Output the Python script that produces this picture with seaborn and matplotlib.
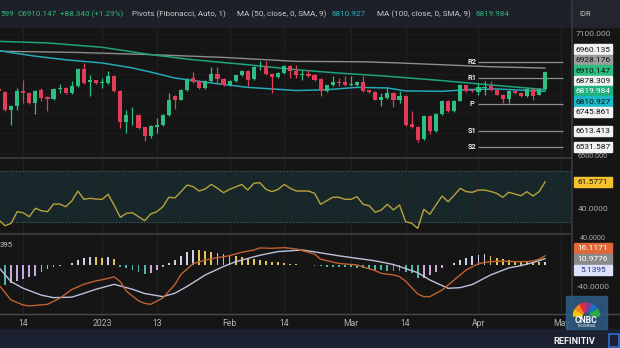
import numpy as np
import matplotlib
matplotlib.use("Agg")
import matplotlib.pyplot as plt
from matplotlib.patches import Rectangle, Wedge
import seaborn as sns

# ---------------- data ----------------
first_index = -1
opens = [6822, 6807, 6715, 6735, 6814, 6802, 6752, 6816, 6782, 6772, 6821, 6827, 6802, 6836, 6925, 6856,
         6866, 6851, 6853, 6890, 6814, 6656, 6690, 6690, 6629, 6584, 6631, 6642, 6690, 6785, 6769, 6819,
         6878, 6861, 6827, 6864, 6898, 6875, 6841, 6864, 6891, 6912, 6873, 6937, 6937, 6898, 6881, 6901,
         6940, 6915, 6895, 6898, 6895, 6875, 6811, 6841, 6858, 6856, 6843, 6844, 6858, 6817, 6807, 6769,
         6777, 6802, 6765, 6789, 6646, 6632, 6570, 6685, 6612, 6696, 6764, 6710, 6764, 6841, 6817, 6807,
         6829, 6836, 6819, 6794, 6772, 6814, 6802, 6785, 6822, 6794, 6822]
highs = [6828, 6814, 6740, 6827, 6869, 6806, 6818, 6827, 6786, 6826, 6848, 6831, 6864, 6930, 6954, 6895,
         6870, 6878, 6912, 6895, 6818, 6718, 6730, 6695, 6633, 6640, 6676, 6695, 6802, 6790, 6824, 6880,
         6908, 6866, 6869, 6932, 6932, 6880, 6869, 6895, 6920, 6916, 6937, 6962, 6962, 6901, 6906, 6945,
         6945, 6945, 6920, 6920, 6899, 6879, 6845, 6886, 6878, 6886, 6886, 6862, 6886, 6820, 6811, 6802,
         6827, 6806, 6811, 6794, 6710, 6636, 6690, 6690, 6700, 6768, 6768, 6768, 6846, 6845, 6821, 6853,
         6861, 6861, 6822, 6797, 6817, 6817, 6806, 6826, 6826, 6828, 6915]
lows = [6805, 6710, 6642, 6718, 6752, 6748, 6696, 6760, 6713, 6768, 6802, 6798, 6798, 6832, 6849, 6789,
        6849, 6827, 6849, 6807, 6626, 6600, 6642, 6620, 6558, 6578, 6600, 6638, 6686, 6723, 6765, 6815,
        6853, 6822, 6822, 6860, 6848, 6836, 6836, 6860, 6888, 6836, 6869, 6920, 6894, 6802, 6877, 6897,
        6878, 6878, 6869, 6882, 6865, 6785, 6807, 6838, 6836, 6838, 6836, 6840, 6807, 6803, 6765, 6735,
        6773, 6732, 6752, 6638, 6626, 6555, 6566, 6595, 6608, 6692, 6706, 6706, 6760, 6807, 6807, 6794,
        6794, 6815, 6790, 6752, 6752, 6798, 6780, 6780, 6769, 6790, 6817]
closes = [6811, 6715, 6735, 6814, 6802, 6752, 6814, 6777, 6772, 6822, 6827, 6802, 6836, 6925, 6853, 6866,
          6853, 6856, 6890, 6811, 6656, 6690, 6693, 6626, 6584, 6634, 6642, 6690, 6769, 6769, 6819, 6875,
          6858, 6827, 6864, 6898, 6875, 6841, 6864, 6891, 6912, 6869, 6932, 6940, 6898, 6881, 6901, 6940,
          6915, 6895, 6898, 6886, 6869, 6811, 6841, 6858, 6851, 6841, 6848, 6858, 6811, 6807, 6769, 6780,
          6802, 6765, 6789, 6642, 6629, 6567, 6685, 6612, 6696, 6764, 6710, 6764, 6841, 6811, 6811, 6831,
          6832, 6819, 6794, 6772, 6814, 6802, 6785, 6822, 6785, 6821.807, 6910.147]

ma100_idx = [-1, 7, 16, 24, 31, 40, 48, 55, 63, 72, 80, 89]
ma100 = [7063, 7055, 7033, 6996, 6970, 6945, 6920, 6903, 6887, 6865, 6843, 6819.984]
ma50_idx = [-1, 5, 10, 16, 21, 24, 28, 34, 40, 48, 53, 58, 63, 66, 72, 76, 81, 89]
ma50 = [7016, 6988, 6970, 6954, 6929, 6908, 6878, 6853, 6831, 6815, 6819, 6831, 6828, 6813, 6811, 6819,
        6823, 6810.927]
gray_idx = [-1, 12, 24, 36, 48, 59, 65, 72, 80, 89]
gray_ma = [7013, 7007, 6996, 6982, 6962, 6960, 6954, 6945, 6935, 6928.176]

pivot_names = ["R2", "R1", "P", "S1", "S2"]
pivot_values = [6960.135, 6878.309, 6745.861, 6613.413, 6531.587]
pivot_start, pivot_end = 78, 92

rsi = [31.6, 27.2, 29.0, 38.1, 37.3, 34.2, 40.8, 38.9, 38.1, 44.1, 44.1, 42.0, 46.5, 54.3, 47.8, 48.6,
       48.0, 47.8, 51.7, 43.0, 33.7, 36.9, 37.3, 34.2, 31.1, 36.3, 38.1, 42.0, 49.4, 48.9, 53.8, 59.0,
       57.7, 54.3, 56.0, 59.5, 56.4, 53.0, 55.6, 57.5, 59.5, 55.1, 60.3, 60.8, 55.6, 53.8, 55.6, 59.5,
       56.4, 54.3, 54.3, 54.3, 52.5, 43.9, 46.7, 49.4, 49.4, 47.8, 47.8, 49.9, 43.9, 42.8, 37.7, 39.5,
       43.9, 39.5, 43.4, 30.3, 29.1, 25.1, 40.0, 36.1, 43.4, 50.4, 45.9, 51.0, 56.4, 53.8, 53.3, 55.1,
       55.1, 54.0, 52.5, 49.4, 53.3, 52.0, 50.6, 53.8, 50.4, 53.8, 61.5771]

macd_idx = [-1, 1, 3, 4, 7, 9, 11, 13, 15, 16, 18, 19, 20, 22, 23, 24, 26, 28, 29, 31, 33, 35, 37, 39,
            41, 42, 44, 46, 48, 51, 52, 55, 58, 61, 62, 64, 65, 66, 68, 69, 70, 72, 74, 76, 78, 80, 82,
            84, 86, 87, 88, 89]
macd = [-35.9, -62.6, -71.5, -73.2, -70.3, -59.6, -44.0, -34.5, -28.6, -26.5, -21.5, -30.0, -47.0,
        -64.0, -68.5, -70.3, -59.0, -35.0, -17.0, 2.0, 8.5, 12.7, 16.2, 22.2, 26.3, 30.0, 29.3, 30.5,
        28.1, 19.0, 10.0, 2.4, -0.3, -10.5, -15.2, -18.1, -21.0, -29.0, -52.0, -56.6, -56.6, -45.0,
        -27.0, -9.0, 2.0, 5.8, 6.6, 5.6, 5.8, 6.8, 10.0, 16.1171]
signal_idx = [-1, 1, 3, 6, 8, 11, 13, 15, 18, 21, 23, 26, 28, 30, 33, 36, 38, 42, 45, 49, 51, 55, 58,
              61, 64, 68, 70, 73, 75, 77, 80, 83, 85, 87, 88, 89]
signal = [-5.0, -30.0, -41.8, -54.0, -58.4, -57.5, -50.7, -43.5, -34.7, -43.5, -51.0, -56.6, -50.5,
          -38.5, -18.0, -3.0, 5.5, 17.0, 23.5, 26.3, 23.0, 16.0, 11.5, 7.0, 0.5, -14.0, -27.0, -41.8,
          -40.6, -35.0, -18.1, -5.5, -1.5, 4.0, 7.5, 10.9776]
hist = [-34.7, -35.9, -32.9, -28.8, -25.2, -22.3, -19.3, -12.2, -7.5, -3.9, -2.0, -0.9, 3.8, 8.5, 12.7,
        14.5, 14.0, 12.7, 14.5, 10.3, -3.3, -6.3, -9.2, -12.2, -16.9, -15.2, -9.2, -4.5, 2.6, 8.5, 16.2,
        22.2, 26.3, 26.0, 24.5, 22.2, 20.4, 18.6, 17.4, 16.2, 14.5, 12.7, 10.3, 8.5, 6.8, 5.6, 4.4, 2.6,
        1.4, 0.8, 0.2, -0.9, -1.5, -2.1, -3.3, -3.4, -3.9, -4.0, -4.5, -5.1, -6.3, -7.5, -9.2, -9.8,
        -10.4, -11.0, -11.1, -12.2, -15.2, -24.1, -22.9, -18.1, -12.2, -6.3, -0.5, 2.6, 8.5, 12.7, 16.2,
        17.4, 18.6, 16.2, 12.7, 10.3, 8.5, 7.4, 6.8, 5.6, 5.0, 4.6, 5.1395]

tick_labels = ["14", "2023", "13", "Feb", "14", "Mar", "14", "Apr", "May"]
tick_idx = [3, 16, 25, 37, 46, 57, 66, 78, 91.6]
price_ticks = [6500, 6600, 6700, 6800, 6900, 7000, 7100]

# ---------------- style ----------------
BG = "#151515"
HEADER = "#1d2028"
BAND = "#1b2130"
GREEN = "#2ebd83"
RED = "#e33c58"
GRID = "#222222"
SEP = "#3a3a3a"
TXT = "#b4b4b4"
W, H = 620, 348

sns.set_theme(style="dark")
plt.rcParams["font.family"] = ["Roboto", "DejaVu Sans"]

fig = plt.figure(figsize=(W / 100, H / 100), dpi=100)
fig.patch.set_facecolor(BG)


def px_axes(x0, y0, x1, y1):
    return fig.add_axes([x0 / W, 1 - y1 / H, (x1 - x0) / W, (y1 - y0) / H])


ax_main = px_axes(0, 28, 571, 157)
ax_rsi = px_axes(0, 159, 571, 233)
ax_macd = px_axes(0, 235, 571, 313)
xlim = (-0.824, 93.25)

for ax in (ax_main, ax_rsi, ax_macd):
    ax.set_facecolor(BG)
    ax.set_xlim(*xlim)
    for s in ax.spines.values():
        s.set_visible(False)
    ax.set_xticks(tick_idx)
    ax.tick_params(length=0, labelleft=False, labelbottom=False)
    ax.grid(True, axis="x", color=GRID, lw=0.8)
    ax.set_axisbelow(True)

# ---- main panel ----
ax_main.set_ylim(6479.8, 7130.3)
ax_main.set_yticks(price_ticks)
ax_main.grid(True, axis="y", color="#1d1d1d", lw=0.7)
x = np.arange(first_index, first_index + len(opens))
o, h, l, c = map(np.asarray, (opens, highs, lows, closes))
cols = np.where(c >= o, GREEN, RED)
ax_main.vlines(x, l, h, colors=cols, lw=0.9, zorder=3)
body = np.maximum(np.abs(c - o), 4.0)
ax_main.bar(x, body, bottom=np.minimum(o, c), width=0.68, color=cols, zorder=4, linewidth=0)

sns.lineplot(x=gray_idx, y=gray_ma, ax=ax_main, color="#8d8d8d", linewidth=1.0, zorder=2)
sns.lineplot(x=ma100_idx, y=ma100, ax=ax_main, color="#1fa37f", linewidth=1.1, zorder=2)
sns.lineplot(x=ma50_idx, y=ma50, ax=ax_main, color="#22a9b8", linewidth=1.1, zorder=2)

ax_main.hlines(pivot_values, pivot_start, pivot_end, colors="#8f8f8f", lw=0.9, zorder=2)
for name, val in zip(pivot_names, pivot_values):
    ax_main.text(pivot_start - 1.1, val, name, ha="center", va="center", color="#e8e8e8",
                 fontsize=5.3, fontweight="bold", zorder=5)
ax_main.set_xlabel("")
ax_main.set_ylabel("")

# ---- RSI panel ----
ax_rsi.set_ylim(21.47, 79.33)
ax_rsi.set_yticks([])
ax_rsi.axhspan(30, 70, color="#17272a", zorder=0)
for lev in (30, 70):
    ax_rsi.axhline(lev, color="#44585b", lw=0.8, ls=(0, (1.2, 1.6)), zorder=1)
sns.lineplot(x=x, y=rsi, ax=ax_rsi, color="#b8a33a", linewidth=1.0, zorder=3)
ax_rsi.set_xlabel("")
ax_rsi.set_ylabel("")

# ---- MACD panel ----
ax_macd.set_ylim(-85.7, 52.98)
ax_macd.set_yticks([])
hcols = []
for k, v in enumerate(hist):
    prev = hist[k - 1] if k > 0 else v
    if v >= 0:
        hcols.append("#d2cdea" if v >= prev else "#e3c55a")
    else:
        hcols.append("#4db8a8" if v < prev else "#c8a9dc")
ax_macd.bar(x, hist, width=0.3, color=hcols, linewidth=0, zorder=2)
sns.lineplot(x=signal_idx, y=signal, ax=ax_macd, color="#bcc1dc", linewidth=1.0, zorder=3)
sns.lineplot(x=macd_idx, y=macd, ax=ax_macd, color="#c0612e", linewidth=1.0, zorder=4)
ax_macd.set_xticklabels(tick_labels)
ax_macd.tick_params(labelbottom=True, colors=TXT, labelsize=6.2, pad=4.5)
for t in ax_macd.get_xticklabels():
    t.set_color(TXT)
ax_macd.set_xlabel("")
ax_macd.set_ylabel("")

# ---------------- overlay (pixel coordinates) ----------------
ov = fig.add_axes([0, 0, 1, 1], zorder=10)
ov.set_xlim(0, W)
ov.set_ylim(H, 0)
ov.axis("off")
ov.patch.set_alpha(0)

fig.canvas.draw()


def ypx(ax, v):
    return H - ax.transData.transform((0, v))[1]


ov.add_patch(Rectangle((0, 0), W, 27, color=HEADER, zorder=0))
ov.add_patch(Rectangle((573, 0), 47, 27, color="#22252c", zorder=0))
ov.add_patch(Rectangle((0, 329), W, 19, color=BAND, zorder=0))
ov.plot([0, 571], [157.8, 157.8], color=SEP, lw=1.4)
ov.plot([0, 571], [233.8, 233.8], color=SEP, lw=1.4)
ov.plot([0, 620], [313.5, 313.5], color="#4a4a4a", lw=1.0)
ov.plot([572, 572], [0, 329], color=SEP, lw=1.2)

# header texts
hy = 14.5
hs = 5.9
ov.text(0, hy, "599", color="#33b57a", fontsize=hs, va="center")
ov.text(17, hy, "C6910.147", color="#33b57a", fontsize=hs, va="center")
ov.text(60, hy, "+88.340 (+1.29%)", color="#33b57a", fontsize=hs, va="center")
ov.text(132, hy, "Pivots (Fibonacci, Auto, 1)", color="#c9c9c9", fontsize=hs, va="center")
ov.text(237, hy, "MA (50, close, 0, SMA, 9)", color="#c9c9c9", fontsize=hs, va="center")
ov.text(332, hy, "6810.927", color="#28b3c4", fontsize=hs, va="center")
ov.text(377, hy, "MA (100, close, 0, SMA, 9)", color="#c9c9c9", fontsize=hs, va="center")
ov.text(475, hy, "6819.984", color="#2bb47b", fontsize=hs, va="center")
ov.text(579, hy, "IDR", color="#c9c9c9", fontsize=5.4, va="center")
ov.text(0, 245, "395", color="#c9c9c9", fontsize=5.6, va="center")


def stack(vals, spacing):
    order = sorted(range(len(vals)), key=lambda k: vals[k])
    clusters = [[k] for k in order]

    def centre(cl):
        return float(np.mean([vals[k] for k in cl]))

    changed = True
    while changed:
        changed = False
        for j in range(len(clusters) - 1):
            a, b = clusters[j], clusters[j + 1]
            a_end = centre(a) + (len(a) - 1) / 2 * spacing
            b_start = centre(b) - (len(b) - 1) / 2 * spacing
            if b_start - a_end < spacing:
                clusters[j] = a + b
                del clusters[j + 1]
                changed = True
                break
    out = {}
    for cl in clusters:
        m = centre(cl)
        n = len(cl)
        for r, k in enumerate(cl):
            out[k] = m + (r - (n - 1) / 2) * spacing
    return [out[k] for k in range(len(vals))]


def boxes(ax, items, spacing=10.4):
    ys = stack([ypx(ax, v) for v, _, _, _ in items], spacing)
    for (v, s, fc, tc), yy in zip(items, ys):
        ov.add_patch(Rectangle((574, yy - 5.0), 38, 10.0, color=fc, zorder=3))
        ov.text(593, yy + 0.3, s, color=tc, fontsize=6.0, ha="center", va="center", zorder=4)
    return ys


def axis_texts(ax, ticks, fmt, box_ys, lo, hi):
    # draw scale labels, nudging those partly hidden by value boxes so they stay readable
    for t in ticks:
        yy = ypx(ax, t)
        if yy < lo or yy > hi:
            continue
        near = [b for b in box_ys if abs(b - yy) < 9.5]
        size = 6.0
        if near:
            b = near[0]
            if abs(b - yy) < 5.5:
                continue  # fully hidden behind a value box
            yy = b + 9.6 * np.sign(yy - b)
            size = 5.2
        ov.text(593, yy, fmt.format(t), color="#a8a8a8", fontsize=size, ha="center", va="center",
                zorder=1)


main_items = [
    (pivot_values[0], f"{pivot_values[0]:.3f}", "#f2f2f2", "#111111"),
    (gray_ma[-1], f"{gray_ma[-1]:.3f}", "#9c9c9c", "#111111"),
    (closes[-1], f"{closes[-1]:.3f}", "#2ebd7f", "#0d0d0d"),
    (pivot_values[1], f"{pivot_values[1]:.3f}", "#f2f2f2", "#111111"),
    (ma100[-1], f"{ma100[-1]:.3f}", "#1fb07c", "#ffffff"),
    (ma50[-1], f"{ma50[-1]:.3f}", "#1cb8c8", "#0d0d0d"),
    (pivot_values[2], f"{pivot_values[2]:.3f}", "#f2f2f2", "#111111"),
    (pivot_values[3], f"{pivot_values[3]:.3f}", "#f2f2f2", "#111111"),
    (pivot_values[4], f"{pivot_values[4]:.3f}", "#f2f2f2", "#111111"),
]
ys_main = boxes(ax_main, main_items)
axis_texts(ax_main, price_ticks, "{:.3f}", ys_main, 28, 157)

ys_rsi = boxes(ax_rsi, [(rsi[-1], f"{rsi[-1]:.4f}", "#f2c230", "#1a1a1a")])
axis_texts(ax_rsi, [40], "{:.4f}", ys_rsi, 159, 233)

ys_macd = boxes(ax_macd, [
    (macd[-1], f"{macd[-1]:.4f}", "#e0683a", "#ffffff"),
    (signal[-1], f"{signal[-1]:.4f}", "#8a8a8a", "#ffffff"),
    (hist[-1], f"{hist[-1]:.4f}", "#dde2fa", "#24337a"),
], spacing=10.8)
axis_texts(ax_macd, [40, -40], "{:.4f}", ys_macd, 235, 313)

# CNBC watermark
ov.add_patch(Rectangle((566, 296), 41, 33, color="#2f5d86", alpha=0.85, zorder=5))
feather = ["#f6c700", "#f58220", "#e22a3b", "#7c3f98", "#1f6fc1", "#2aa84a"]
for k, fc in enumerate(feather):
    ov.add_patch(Wedge((586.5, 316), 13, 180 + k * 30, 180 + (k + 1) * 30, width=8.5, color=fc,
                       zorder=6))
ov.text(586.5, 320.5, "CNBC", color="white", fontsize=6.2, fontweight="bold", ha="center",
        va="center", zorder=7)
ov.text(586.5, 326.3, "INDONESIA", color="white", fontsize=2.6, ha="center", va="center", zorder=7)

ov.text(553, 341.5, "REFINITIV", color="#f0f0f0", fontsize=6.6, fontweight="bold", va="center")
ov.add_patch(Rectangle((609, 334), 10, 13, fill=False, ec="#2f6fd6", lw=1.2))

fig.savefig("out.png", dpi=100, facecolor=BG)
